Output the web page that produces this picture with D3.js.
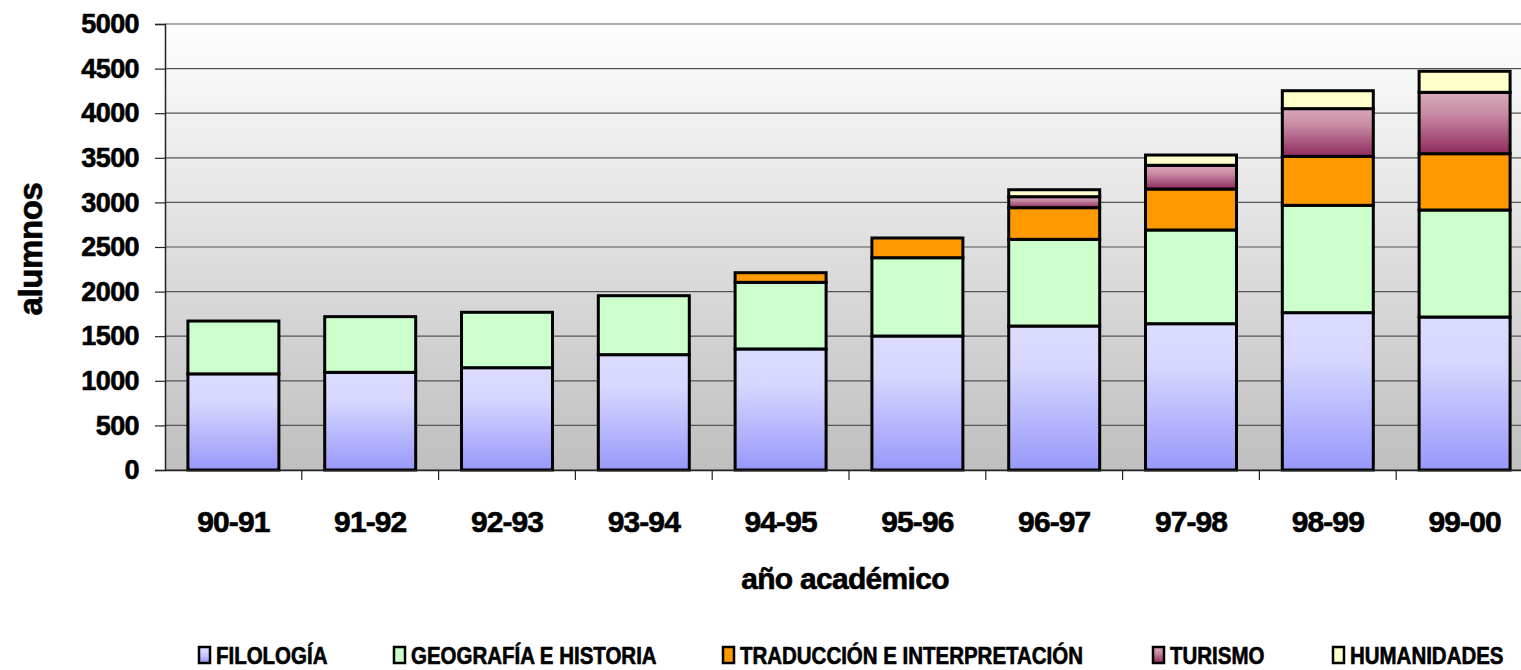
<!DOCTYPE html>
<html>
<head>
<meta charset="utf-8">
<script src="https://cdn.jsdelivr.net/npm/d3@7"></script>
<style>
  body { margin: 0; background: #fff; }
  svg { display: block; font-family: "Liberation Sans", Arial, sans-serif; font-weight: bold; }
  .heavy { stroke: #000; stroke-width: 0.6px; }
</style>
</head>
<body>
<div id="chart"></div>
<script>
// data
const years = ["90-91", "91-92", "92-93", "93-94", "94-95", "95-96", "96-97", "97-98", "98-99", "99-00"];
const filologia   = [1078, 1095, 1147, 1293, 1357, 1502, 1614, 1640, 1764, 1715];
const geografia   = [592, 624, 621, 661, 747, 878, 972, 1051, 1203, 1200];
const traduccion  = [0, 0, 0, 0, 108, 221, 355, 459, 549, 631];
const turismo     = [0, 0, 0, 0, 0, 0, 123, 266, 535, 688];
const humanidades = [0, 0, 0, 0, 0, 0, 78, 115, 201, 236];
const yTickValues = [0, 500, 1000, 1500, 2000, 2500, 3000, 3500, 4000, 4500, 5000];

const seriesNames = ["FILOLOGÍA", "GEOGRAFÍA E HISTORIA", "TRADUCCIÓN E INTERPRETACIÓN", "TURISMO", "HUMANIDADES"];
const seriesKeys = ["fil", "geo", "tra", "tur", "hum"];
const fills = ["url(#gFil)", "#ccffcc", "#ff9900", "url(#gTur)", "#ffffcc"];

const rows = years.map((y, i) => ({
    year: y, fil: filologia[i], geo: geografia[i], tra: traduccion[i], tur: turismo[i], hum: humanidades[i]
}));

const W = 1521, H = 670;
const plot = {left: 165, top: 24, bottom: 470, right: 165 + 10 * 136.8};

const svg = d3.select("#chart").append("svg")
    .attr("width", W).attr("height", H)
    .attr("viewBox", `0 0 ${W} ${H}`);

const defs = svg.append("defs");
let bg = defs.append("linearGradient").attr("id", "gBg").attr("x1", 0).attr("y1", 0).attr("x2", 0).attr("y2", 1);
bg.append("stop").attr("offset", "0%").attr("stop-color", "#fefefe");
bg.append("stop").attr("offset", "100%").attr("stop-color", "#bfbfbf");

let gf = defs.append("linearGradient").attr("id", "gFil").attr("x1", 0).attr("y1", 0).attr("x2", 0).attr("y2", 1);
gf.append("stop").attr("offset", "0%").attr("stop-color", "#dcdcff");
gf.append("stop").attr("offset", "30%").attr("stop-color", "#d6d6ff");
gf.append("stop").attr("offset", "100%").attr("stop-color", "#9898fb");

let gt = defs.append("linearGradient").attr("id", "gTur").attr("x1", 0).attr("y1", 0).attr("x2", 0).attr("y2", 1);
gt.append("stop").attr("offset", "0%").attr("stop-color", "#d9a8bd");
gt.append("stop").attr("offset", "35%").attr("stop-color", "#c98ba5");
gt.append("stop").attr("offset", "100%").attr("stop-color", "#8f2a5c");

/* scales */
const x = d3.scaleBand()
    .domain(years)
    .range([plot.left, plot.right])
    .paddingInner(0.335)
    .paddingOuter(0.1675);

const y = d3.scaleLinear()
    .domain([0, 5000])
    .range([plot.bottom, plot.top]);

// plot background
svg.append("rect")
    .attr("x", plot.left).attr("y", plot.top)
    .attr("width", plot.right - plot.left).attr("height", plot.bottom - plot.top)
    .attr("fill", "url(#gBg)");

// gridlines
svg.append("g")
    .selectAll("line")
    .data(yTickValues)
    .join("line")
    .attr("x1", plot.left).attr("x2", plot.right)
    .attr("y1", d => y(d)).attr("y2", d => y(d))
    .attr("stroke", "#555").attr("stroke-width", 1.2);

/* bars */
const stacked = d3.stack().keys(seriesKeys)(rows);

svg.append("g")
    .selectAll("g")
    .data(stacked)
    .join("g")
    .attr("fill", (d, i) => fills[i])
    .selectAll("rect")
    .data(d => d.filter(s => s[1] - s[0] > 0))
    .join("rect")
    .attr("x", d => x(d.data.year))
    .attr("width", x.bandwidth())
    .attr("y", d => y(d[1]))
    .attr("height", d => y(d[0]) - y(d[1]))
    .attr("stroke", "#000")
    .attr("stroke-width", 3);

/* Y axis */
const yAxis = svg.append("g")
    .attr("transform", `translate(${plot.left},0)`)
    .call(d3.axisLeft(y).tickValues(yTickValues).tickFormat(d3.format("d")).tickSize(10).tickPadding(16));
yAxis.select(".domain").attr("stroke", "#222").attr("stroke-width", 1.5);
yAxis.selectAll(".tick line").attr("stroke", "#222").attr("stroke-width", 1.2);
yAxis.selectAll("text")
    .attr("class", "heavy")
    .attr("font-size", 27).attr("font-weight", "bold").attr("fill", "#000")
    .attr("letter-spacing", -0.6)
    .attr("font-family", "Liberation Sans, Arial, sans-serif");

/* X axis */
const xAxis = svg.append("g")
    .attr("transform", `translate(0,${plot.bottom})`)
    .call(d3.axisBottom(x).tickSize(0).tickPadding(41).tickSizeOuter(0));
xAxis.select(".domain").attr("stroke", "#222").attr("stroke-width", 1.5);
xAxis.selectAll("text")
    .attr("class", "heavy")
    .attr("font-size", 30).attr("font-weight", "bold").attr("fill", "#000")
    .attr("letter-spacing", -0.9)
    .attr("font-family", "Liberation Sans, Arial, sans-serif");

// boundary ticks between categories
svg.append("g")
    .selectAll("line")
    .data(years.slice(1))
    .join("line")
    .attr("x1", d => x(d) - x.step() * x.paddingInner() / 2)
    .attr("x2", d => x(d) - x.step() * x.paddingInner() / 2)
    .attr("y1", plot.bottom).attr("y2", plot.bottom + 10)
    .attr("stroke", "#222").attr("stroke-width", 1.2);

// axis titles
svg.append("rect")
    .attr("x", 736).attr("y", 556).attr("width", 218).attr("height", 44)
    .attr("fill", "#fff");
svg.append("text")
    .attr("class", "heavy")
    .attr("x", 845).attr("y", 589)
    .attr("text-anchor", "middle")
    .attr("font-size", 30).attr("letter-spacing", -0.7)
    .text("año académico");

svg.append("text")
    .attr("class", "heavy")
    .attr("transform", `translate(42, 249) rotate(-90)`)
    .attr("text-anchor", "middle")
    .attr("font-size", 33).attr("letter-spacing", -0.4)
    .text("alumnos");

/* legend */
const legendX = [199, 394, 723, 1153, 1333];
const legend = svg.append("g").attr("transform", "translate(0,647)");
const items = legend.selectAll("g")
    .data(seriesNames)
    .join("g")
    .attr("transform", (d, i) => `translate(${legendX[i]},0)`);
items.append("rect")
    .attr("width", 11).attr("height", 16)
    .attr("fill", (d, i) => fills[i])
    .attr("stroke", "#000").attr("stroke-width", 2.5);
// the legend font is condensed, so squeeze it horizontally
items.append("text")
    .attr("class", "heavy")
    .attr("transform", "translate(17,17) scale(0.89,1)")
    .attr("font-size", 23)
    .text(d => d);
</script>
</body>
</html>
